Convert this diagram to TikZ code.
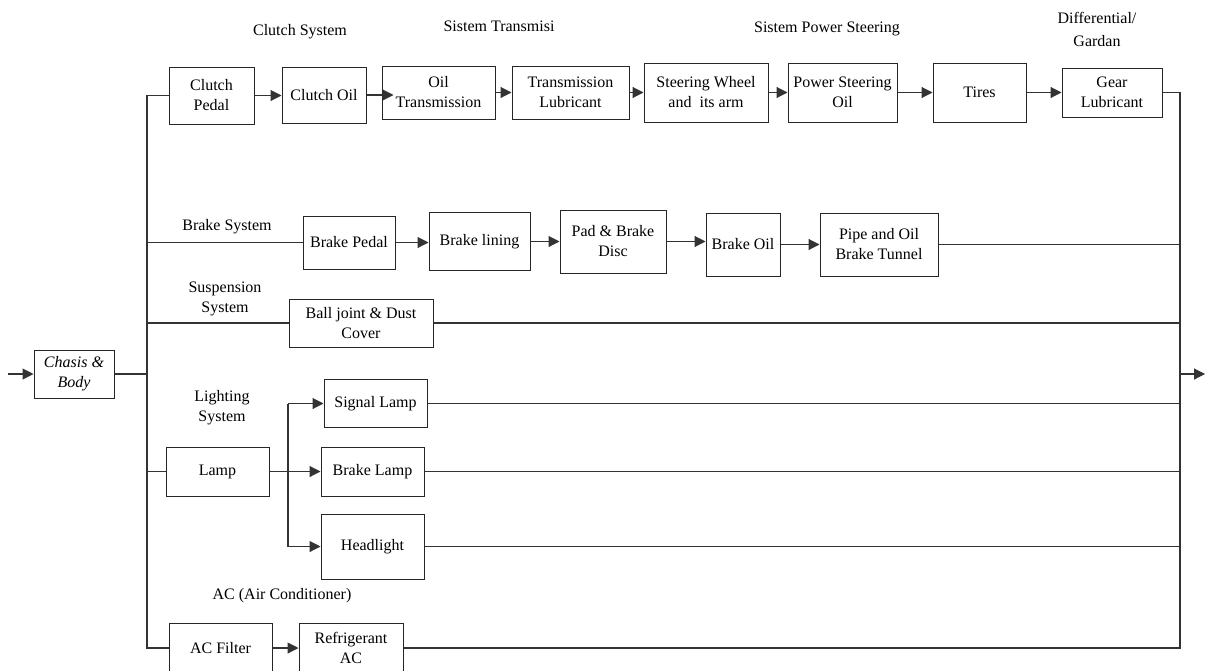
\documentclass[tikz,border=0pt]{standalone}
\usepackage{fontspec}
\setmainfont{Liberation Serif}
\usetikzlibrary{arrows.meta}
\begin{document}
\begin{tikzpicture}[x=1pt,y=-1pt,
  every node/.style={font=\fontsize{16}{20}\selectfont},
  blk/.style={draw=black!85, line width=1pt, align=center, inner sep=0pt},
  ln/.style={draw=black!80, line width=1.1pt},
  arr/.style={ln, -{Triangle[length=11pt,width=11pt]}},
  lbl/.style={align=center, inner sep=0pt}]
\useasboundingbox (0,0) rectangle (1206,670);
\clip (0,0) rectangle (1206,670);
% rails
\coordinate (L) at (147,0);
\coordinate (R) at (1180,0);
\coordinate (J) at (288,0);
\coordinate (in) at (8,374);
\coordinate (out) at (1205,374);
% nodes
\node[blk, minimum width=80pt, minimum height=48pt, font=\fontsize{16}{20}\selectfont\itshape] (cb) at (74,374) {Chasis \&\\Body};
\node[blk, minimum width=85pt, minimum height=57pt] (cp) at (211.5,95.5) {Clutch\\Pedal};
\node[blk, minimum width=84pt, minimum height=56pt] (co) at (324,95) {Clutch Oil};
\node[blk, minimum width=113pt, minimum height=53pt] (ot) at (438.5,92.5) {Oil\\Transmission};
\node[blk, minimum width=117pt, minimum height=53pt] (tl) at (570.5,92.5) {Transmission\\Lubricant};
\node[blk, minimum width=124pt, minimum height=59pt] (sw) at (706,92.5) {Steering Wheel\\and\ \ its arm};
\node[blk, minimum width=109pt, minimum height=59pt] (ps) at (842.5,92.5) {Power Steering\\Oil};
\node[blk, minimum width=93pt, minimum height=59pt] (ti) at (979.5,92.5) {Tires};
\node[blk, minimum width=100pt, minimum height=49pt] (gl) at (1112,92.5) {Gear\\Lubricant};
\node[blk, minimum width=92pt, minimum height=53pt] (bp) at (349,242.5) {Brake Pedal};
\node[blk, minimum width=101pt, minimum height=58pt] (bl) at (479.5,241.5) {Brake lining};
\node[blk, minimum width=106pt, minimum height=63pt] (pb) at (613,241.5) {Pad \& Brake\\Disc};
\node[blk, minimum width=74pt, minimum height=63pt] (bo) at (743,244.5) {Brake Oil};
\node[blk, minimum width=118pt, minimum height=63pt] (po) at (879,244.5) {Pipe and Oil\\Brake Tunnel};
\node[blk, minimum width=144pt, minimum height=48pt] (bj) at (361,323) {Ball joint \& Dust\\Cover};
\node[blk, minimum width=103pt, minimum height=48pt] (sl) at (375.5,403.5) {Signal Lamp};
\node[blk, minimum width=103pt, minimum height=49pt] (la) at (217.5,471.5) {Lamp};
\node[blk, minimum width=103pt, minimum height=49pt] (bk) at (372.5,471.5) {Brake Lamp};
\node[blk, minimum width=103pt, minimum height=65pt] (hl) at (372.5,546.5) {Headlight};
\node[blk, minimum width=103pt, minimum height=50pt] (af) at (220.5,648) {AC Filter};
\node[blk, minimum width=104pt, minimum height=50pt] (ra) at (351,648) {Refrigerant\\AC};
% labels
\node[lbl] (h1) at (300,32) {Clutch System};
\node[lbl] (h2) at (499,26) {Sistem Transmisi};
\node[lbl] (h3) at (827,29) {Sistem Power Steering};
\node[lbl] (h4) at (1097,29) {Differential/\\[3pt]Gardan};
\node[lbl] (lbs) at (227,227) {Brake System};
\node[lbl] (lsu) at (225,299) {Suspension\\System};
\node[lbl] (lli) at (222,408) {Lighting\\System};
\node[lbl] (lac) at (282,596) {AC (Air Conditioner)};
% input / output
\draw[arr] (in) -- (cb.west);
\draw[ln] (cb.east) -- (cb.east -| L);
\draw[arr] (R |- out) -- (out);
% left rail
\draw[ln] (cp.west) -- (cp.west -| L) -- (L |- af.west) -- (af.west);
\draw[ln] (L |- bp.west) -- (bp.west);
\draw[ln] (L |- bj.west) -- (bj.west);
\draw[ln] (L |- la.west) -- (la.west);
% right rail
\draw[ln] (gl.east) -- (gl.east -| R) -- (R |- ra.east) -- (ra.east);
\draw[ln] (po.east) -- (po.east -| R);
\draw[ln] (bj.east) -- (bj.east -| R);
\draw[ln] (sl.east) -- (sl.east -| R);
\draw[ln] (bk.east) -- (bk.east -| R);
\draw[ln] (hl.east) -- (hl.east -| R);
% top row
\draw[arr] (cp.east) -- (cp.east -| co.west);
\draw[arr, shorten >=-12pt] (co.east) -- (co.east -| ot.west);
\draw[arr] (ot.east) -- (ot.east -| tl.west);
\draw[arr] (tl.east) -- (tl.east -| sw.west);
\draw[arr] (sw.east) -- (sw.east -| ps.west);
\draw[arr] (ps.east) -- (ps.east -| ti.west);
\draw[arr] (ti.east) -- (ti.east -| gl.west);
% brake row
\draw[arr] (bp.east) -- (bp.east -| bl.west);
\draw[arr] (bl.east) -- (bl.east -| pb.west);
\draw[arr] (pb.east) -- (pb.east -| bo.west);
\draw[arr] (bo.east) -- (bo.east -| po.west);
% lighting
\draw[ln] (la.east) -- (la.east -| J);
\draw[ln] (J |- sl.west) -- (J |- hl.west);
\draw[arr] (J |- sl.west) -- (sl.west);
\draw[arr] (J |- bk.west) -- (bk.west);
\draw[arr] (J |- hl.west) -- (hl.west);
% AC
\draw[arr] (af.east) -- (af.east -| ra.west);
\end{tikzpicture}
\end{document}
